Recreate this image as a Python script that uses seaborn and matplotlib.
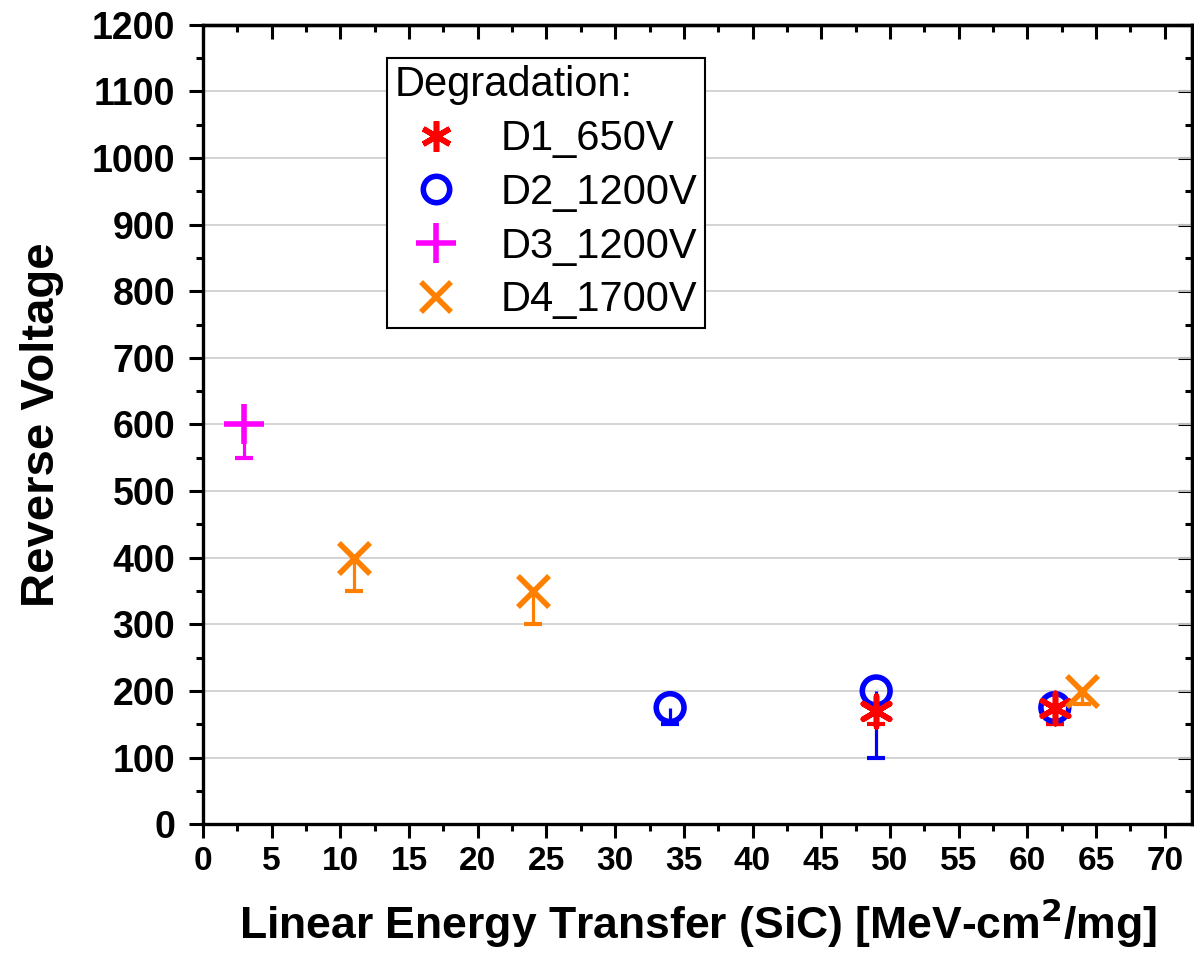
import matplotlib
matplotlib.use("Agg")
import matplotlib.pyplot as plt
import seaborn as sns
import pandas as pd
import numpy as np
from matplotlib.ticker import MultipleLocator
from matplotlib.lines import Line2D

sns.set_theme(style="white")
plt.rcParams['font.family'] = ['Liberation Sans', 'DejaVu Sans']
plt.rcParams.update({"text.color": "black", "axes.labelcolor": "black",
                     "xtick.color": "black", "ytick.color": "black"})

# Data
series_names = ["D1_650V", "D2_1200V", "D3_1200V", "D4_1700V"]
d1_let = [49, 62]
d1_v = [170, 175]
d1_err_lo = [20, 25]
d2_let = [34, 49, 62]
d2_v = [175, 200, 175]
d2_err_lo = [25, 100, 25]
d3_let = [3]
d3_v = [600]
d3_err_lo = [50]
d4_let = [11, 24, 64]
d4_v = [400, 350, 200]
d4_err_lo = [50, 50, 20]
x_ticks = list(range(0, 71, 5))
y_ticks = list(range(0, 1201, 100))

rows = []
for name, xs, ys, es in zip(series_names,
                            [d1_let, d2_let, d3_let, d4_let],
                            [d1_v, d2_v, d3_v, d4_v],
                            [d1_err_lo, d2_err_lo, d3_err_lo, d4_err_lo]):
    for x, y, e in zip(xs, ys, es):
        rows.append({"series": name, "LET": x, "V": y, "err": e})
df = pd.DataFrame(rows)

colors = {"D1_650V": "#ff0000", "D2_1200V": "#0000ff", "D3_1200V": "#ff00ff", "D4_1700V": "#ff8000"}
markers = {"D1_650V": (6, 2, 0), "D2_1200V": "o", "D3_1200V": "+", "D4_1700V": "x"}
sizes = {"D1_650V": 480, "D2_1200V": 400, "D3_1200V": 850, "D4_1700V": 500}

fig = plt.figure(figsize=(11.94, 9.55), dpi=100)
ax = fig.add_axes([0.170, 0.137, 0.8285, 0.837])

order = ["D2_1200V", "D1_650V", "D3_1200V", "D4_1700V"]
for name in order:
    sub = df[df.series == name]
    c = colors[name]
    eb = ax.errorbar(sub.LET, sub.V, yerr=[sub.err, [0] * len(sub)], fmt="none",
                     ecolor=c, elinewidth=2.3, capsize=6.5, capthick=3, zorder=3)
    # keep only the lower caps
    for cl in eb[1]:
        yd = np.asarray(cl.get_ydata(), dtype=float)
        if np.allclose(yd, sub.V.values.astype(float)):
            cl.set_visible(False)
    if name == "D2_1200V":
        sns.scatterplot(data=sub, x="LET", y="V", marker="o", s=sizes[name],
                        facecolor="none", edgecolor=c, linewidth=4, ax=ax,
                        zorder=4, legend=False)
    else:
        sns.scatterplot(data=sub, x="LET", y="V", marker=markers[name],
                        s=sizes[name], color=c, linewidth=4, ax=ax,
                        zorder=4, legend=False)

ax.set_xlim(0, 72)
ax.set_ylim(0, 1200)
ax.xaxis.set_major_locator(MultipleLocator(5))
ax.xaxis.set_minor_locator(MultipleLocator(2.5))
ax.yaxis.set_major_locator(MultipleLocator(100))
ax.yaxis.set_minor_locator(MultipleLocator(50))

ax.grid(True, axis="y", which="major", color="#d0d0d0", linewidth=1.3)
ax.grid(False, axis="x")
ax.set_axisbelow(True)

for s in ax.spines.values():
    s.set_visible(True)
    s.set_color("black")
    s.set_linewidth(2.4)

ax.tick_params(axis="both", which="major", direction="out", length=10, width=2.2,
               color="black", bottom=True, left=True, pad=6)
ax.tick_params(axis="y", which="major", pad=10)
ax.tick_params(axis="both", which="minor", direction="out", length=5, width=2.2,
               color="black", bottom=True, left=True)
# inward ticks on top/right via secondary axes
secx = ax.secondary_xaxis("top")
secx.xaxis.set_major_locator(MultipleLocator(5))
secx.xaxis.set_minor_locator(MultipleLocator(2.5))
secx.tick_params(which="major", direction="in", length=10, width=2.2, labeltop=False)
secx.tick_params(which="minor", direction="in", length=5, width=2.2)
secx.spines["top"].set_linewidth(2.4)
secy = ax.secondary_yaxis("right")
secy.yaxis.set_major_locator(MultipleLocator(100))
secy.yaxis.set_minor_locator(MultipleLocator(50))
secy.tick_params(which="major", direction="in", length=10, width=2.2, labelright=False)
secy.tick_params(which="minor", direction="in", length=5, width=2.2)
secy.spines["right"].set_linewidth(2.4)

ax.set_yticks(y_ticks)
ax.set_yticklabels([str(v) for v in y_ticks], fontsize=27, fontweight="bold")
ax.set_xticks(x_ticks)
ax.set_xticklabels([str(v) for v in x_ticks], fontsize=24, fontweight="bold")

ax.set_xlabel("Linear Energy Transfer (SiC) [MeV-cm$^{\\mathbf{2}}$/mg]", fontsize=32,
              fontweight="bold", labelpad=14)
ax.set_ylabel("Reverse Voltage", fontsize=34, fontweight="bold", labelpad=20)

handles = []
for name in series_names:
    c = colors[name]
    if name == "D2_1200V":
        h = Line2D([], [], linestyle="none", marker="o", markersize=19,
                   markerfacecolor="none", markeredgecolor=c, markeredgewidth=4)
    else:
        ms = {"D1_650V": 22, "D3_1200V": 29, "D4_1700V": 21}[name]
        h = Line2D([], [], linestyle="none", marker=markers[name], markersize=ms,
                   color=c, markeredgewidth=4)
    handles.append(h)

leg = ax.legend(handles, series_names, title="Degradation:", loc="upper left",
                bbox_to_anchor=(0.186, 0.9587), fontsize=30, title_fontsize=30,
                frameon=True, fancybox=False, edgecolor="black", framealpha=1,
                labelspacing=0.33, handletextpad=0.55, borderpad=0.18,
                handlelength=2.0, borderaxespad=0)
leg._legend_box.align = "left"
leg.get_frame().set_linewidth(1.5)

fig.savefig("out.png", dpi=100)
